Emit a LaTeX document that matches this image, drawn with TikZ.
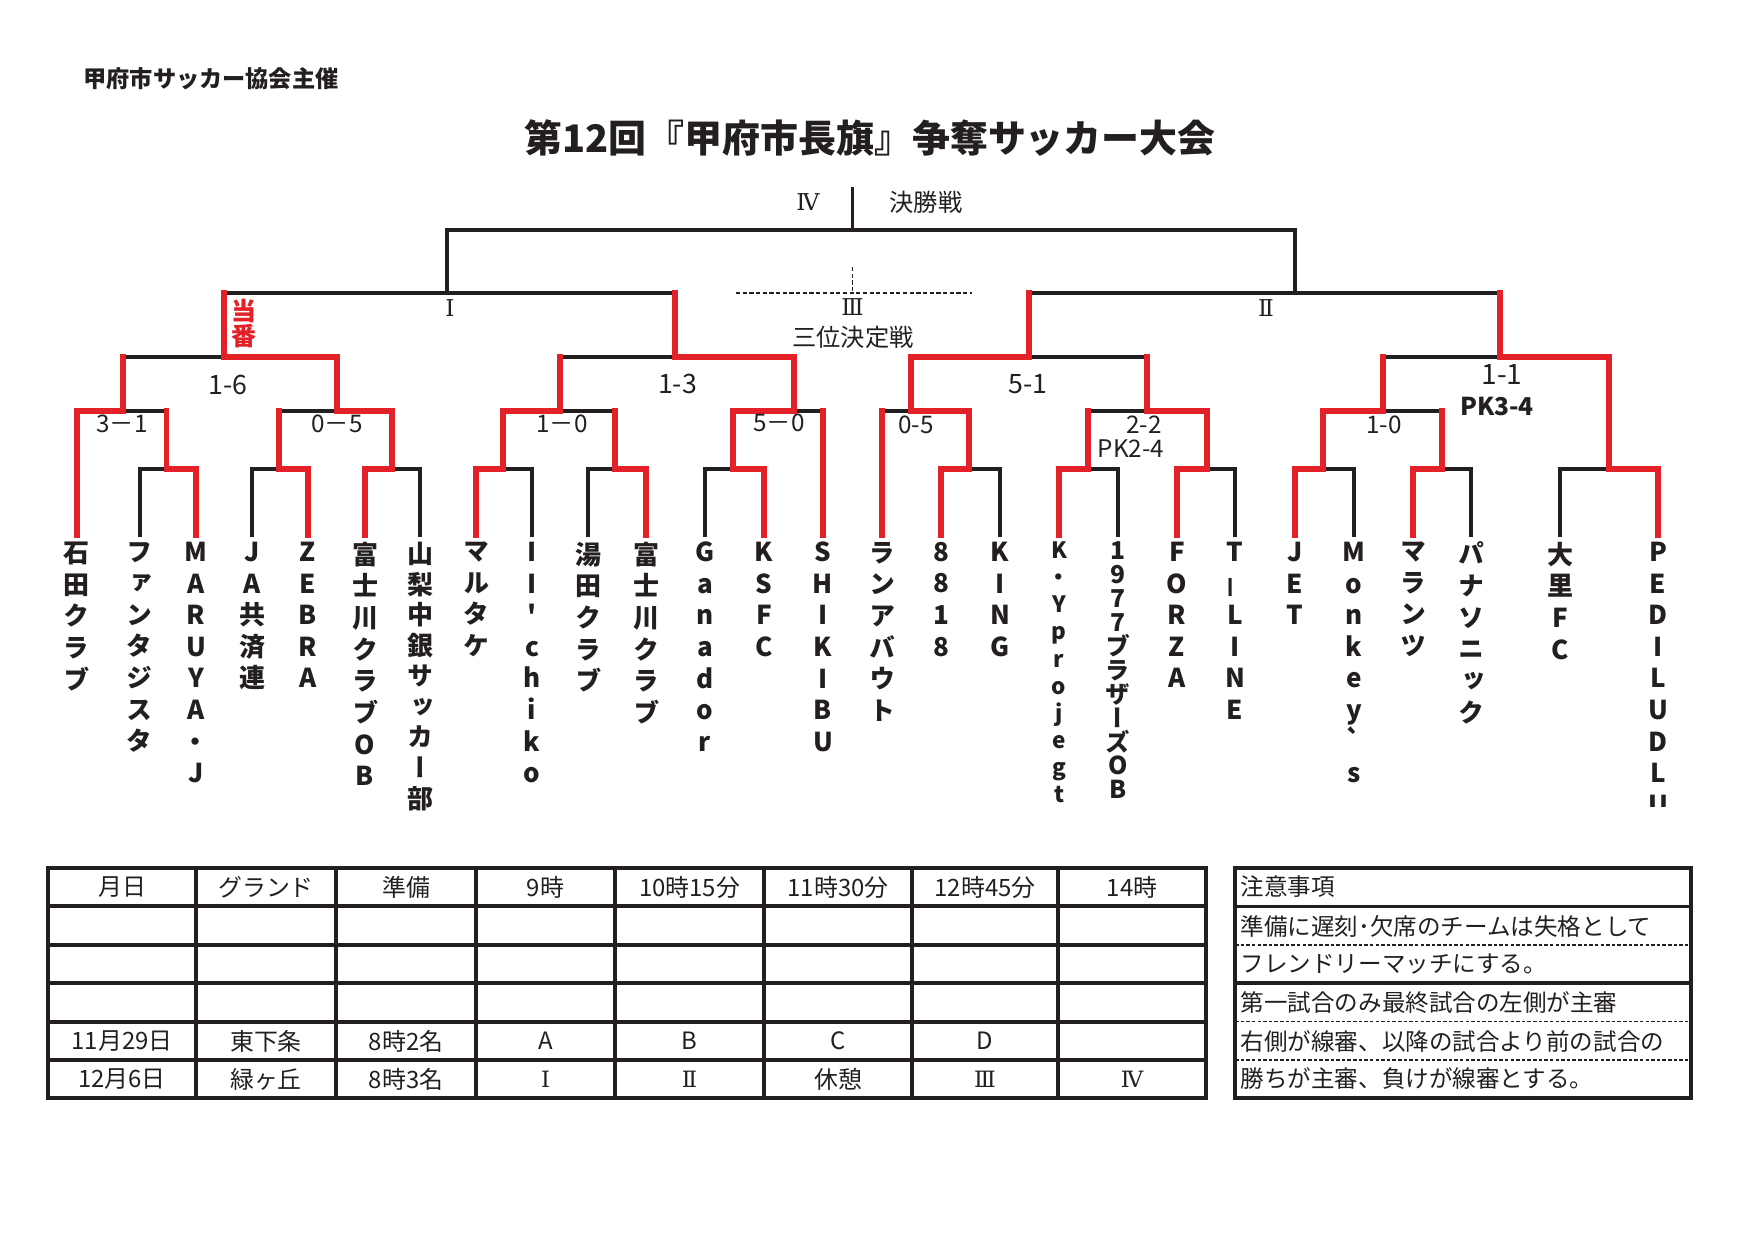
\documentclass[tikz,border=0pt]{standalone}
\usepackage{fontspec}
\setmainfont{Noto Sans CJK JP}
\newfontfamily\teamfont[RawFeature=+vert]{Noto Sans CJK JP}
\newfontfamily\romfont{DejaVu Serif}
\definecolor{winred}{RGB}{228,32,40}
\definecolor{ink}{RGB}{35,31,32}

\begin{document}
\begin{tikzpicture}[
    x=0.1mm, y=-0.1mm,
    loseline/.style={draw=ink, line width=0.95pt, line cap=rect},
    winline/.style={draw=winred, line width=1.6pt, line cap=rect},
    thirdline/.style={draw=ink, line width=0.5pt, dash pattern=on 1.2pt off 0.7pt},
    teamname/.style={
        anchor=north, align=center, inner sep=0pt, outer ysep=0.7mm, text=ink,
        font={\teamfont\bfseries\fontsize{7.4pt}{9pt}\selectfont\lineskiplimit=-20pt}
    },
    roundlbl/.style={inner sep=0pt, text=ink, font=\fontsize{6.9pt}{8pt}\selectfont},
    romlbl/.style={inner sep=0pt, text=ink, font=\romfont\fontsize{6.6pt}{8pt}\selectfont},
    score/.style={inner sep=0pt, text=ink, font=\fontsize{6.9pt}{8pt}\selectfont},
    bigscore/.style={inner sep=0pt, text=ink, font=\fontsize{7.6pt}{9pt}\selectfont},
    dutylbl/.style={
        inner sep=0pt, align=center, text=winred,
        font={\bfseries\fontsize{7.1pt}{7.1pt}\selectfont\lineskiplimit=-20pt}
    },
    gridline/.style={draw=ink, line width=1pt},
    gridframe/.style={draw=ink, line width=1.3pt},
    dotline/.style={draw=ink, line width=0.4pt, dash pattern=on 1pt off 0.6pt},
    cell/.style={inner sep=0pt, text=ink, font=\fontsize{6.8pt}{8pt}\selectfont},
    romcell/.style={inner sep=0pt, text=ink, font=\romfont\fontsize{6.4pt}{8pt}\selectfont},
    notetext/.style={anchor=west, inner sep=0pt, text=ink, font=\fontsize{6.7pt}{8pt}\selectfont}
]
\useasboundingbox (0,0) rectangle (1754,1240);

% Heading
\node[inner sep=0pt, text=ink, font=\bfseries\fontsize{6.6pt}{8pt}\selectfont] (org) at (211,79) {甲府市サッカー協会主催};
\node[inner sep=0pt, text=ink, font=\bfseries\fontsize{10.8pt}{12pt}\selectfont] (title) at (870,138) {第12回『甲府市長旗』争奪サッカー大会};

% Match points of the bracket
\coordinate (finT) at (852.5,189);
\coordinate (fin) at (852.5,230);
\coordinate (semiL) at (447,293);
\coordinate (semiR) at (1295,293);
\coordinate (qf1) at (224,357);
\coordinate (qf2) at (675,357);
\coordinate (qf3) at (1029,357);
\coordinate (qf4) at (1500,357);
\coordinate (r1) at (123,411);
\coordinate (r2) at (337,411);
\coordinate (r3) at (560,411);
\coordinate (r4) at (794,411);
\coordinate (r5) at (911,411);
\coordinate (r6) at (1147,411);
\coordinate (r7) at (1383,411);
\coordinate (s1) at (166.5,469);
\coordinate (s2) at (279,469);
\coordinate (s3) at (392,469);
\coordinate (s4) at (503,469);
\coordinate (s5) at (615,469);
\coordinate (s6) at (733,469);
\coordinate (s7) at (969,469);
\coordinate (s8) at (1088,469);
\coordinate (s9) at (1207,469);
\coordinate (s10) at (1323,469);
\coordinate (s11) at (1442,469);
\coordinate (s12) at (1609,469);
\coordinate (thirdL) at (736,293);
\coordinate (thirdR) at (972,293);
\coordinate (thirdT) at (852.5,267);
\coordinate (third) at (852.5,293);

% Teams, written top to bottom
\node[teamname] (t1) at (77,535) {石\\田\\ク\\ラ\\ブ};
\node[teamname] (t2) at (140,535) {フ\\ァ\\ン\\タ\\ジ\\ス\\タ};
\node[teamname] (t3) at (196,535) {M\\A\\R\\U\\Y\\A\\・\\J};
\node[teamname] (t4) at (252,535) {J\\A\\共\\済\\連};
\node[teamname] (t5) at (308,535) {Z\\E\\B\\R\\A};
\node[teamname] (t6) at (365,535) {富\\士\\川\\ク\\ラ\\ブ\\O\\B};
\node[teamname, font={\teamfont\bfseries\fontsize{7.4pt}{8.7pt}\selectfont\lineskiplimit=-20pt}] (t7) at (420,535) {山\\梨\\中\\銀\\サ\\ッ\\カ\\ー\\部};
\node[teamname] (t8) at (476,535) {マ\\ル\\タ\\ケ};
\node[teamname] (t9) at (532,535) {I\\I\\'\\c\\h\\i\\k\\o};
\node[teamname] (t10) at (588,535) {湯\\田\\ク\\ラ\\ブ};
\node[teamname] (t11) at (646,535) {富\\士\\川\\ク\\ラ\\ブ};
\node[teamname] (t12) at (705,535) {G\\a\\n\\a\\d\\o\\r};
\node[teamname] (t13) at (764,535) {K\\S\\F\\C};
\node[teamname] (t14) at (823,535) {S\\H\\I\\K\\I\\B\\U};
\node[teamname] (t15) at (882,535) {ラ\\ン\\ア\\バ\\ウ\\ト};
\node[teamname] (t16) at (941,535) {8\\8\\1\\8};
\node[teamname] (t17) at (1000,535) {K\\I\\N\\G};
\node[teamname, font={\teamfont\bfseries\fontsize{6.4pt}{7.7pt}\selectfont\lineskiplimit=-20pt}] (t18) at (1059,535) {K\\・\\Y\\p\\r\\o\\j\\e\\g\\t};
\node[teamname, font={\teamfont\bfseries\fontsize{7pt}{6.8pt}\selectfont\lineskiplimit=-20pt}] (t19) at (1118,535) {1\\9\\7\\7\\ブ\\ラ\\ザ\\ー\\ズ\\O\\B};
\node[teamname] (t20) at (1177,535) {F\\O\\R\\Z\\A};
\node[teamname] (t21) at (1235,535) {T\\\rotatebox[origin=c]{90}{－}\\L\\I\\N\\E};
\node[teamname] (t22) at (1295,535) {J\\E\\T};
\node[teamname] (t23) at (1354,535) {M\\o\\n\\k\\e\\y\\`\\s};
\node[teamname] (t24) at (1413,535) {マ\\ラ\\ン\\ツ};
\node[teamname] (t25) at (1471,535) {パ\\ナ\\ソ\\ニ\\ッ\\ク};
\node[teamname] (t26) at (1560,535) {大\\里\\F\\C};
\begin{scope}
  \clip (1600,500) rectangle (1720,806);
  \node[teamname] (t27) at (1658,535) {P\\E\\D\\I\\L\\U\\D\\L\\U};
\end{scope}

% Lines not yet won
\draw[loseline] (semiL) |- (fin);
\draw[loseline] (semiR) |- (fin);
\draw[loseline] (fin) -- (finT);
\draw[loseline] (qf1 |- semiL) -- (qf2 |- semiL);
\draw[loseline] (qf3 |- semiR) -- (qf4 |- semiR);
\draw[loseline] (r1 |- qf1) -- (qf1);
\draw[loseline] (r3 |- qf2) -- (qf2);
\draw[loseline] (qf3) -- (r6 |- qf3);
\draw[loseline] (r7 |- qf4) -- (qf4);
\draw[loseline] (s1 |- r1) -- (r1);
\draw[loseline] (s2 |- r2) -- (r2);
\draw[loseline] (r3) -- (s5 |- r3);
\draw[loseline] (r4) -- (t14.north |- r4);
\draw[loseline] (t15.north |- r5) -- (r5);
\draw[loseline] (s8 |- r6) -- (r6);
\draw[loseline] (r7) -- (s11 |- r7);
\draw[loseline] (t2.north) |- (s1);
\draw[loseline] (t4.north) |- (s2);
\draw[loseline] (t7.north) |- (s3);
\draw[loseline] (t9.north) |- (s4);
\draw[loseline] (t10.north) |- (s5);
\draw[loseline] (t12.north) |- (s6);
\draw[loseline] (t17.north) |- (s7);
\draw[loseline] (t19.north) |- (s8);
\draw[loseline] (t21.north) |- (s9);
\draw[loseline] (t23.north) |- (s10);
\draw[loseline] (t25.north) |- (s11);
\draw[loseline] (t26.north) |- (s12);

% Winners' paths
\draw[winline] (qf1) -- (qf1 |- semiL);
\draw[winline] (qf2) -- (qf2 |- semiL);
\draw[winline] (qf3) -- (qf3 |- semiR);
\draw[winline] (qf4) -- (qf4 |- semiR);
\draw[winline] (r1) -- (r1 |- qf1);
\draw[winline] (r2) |- (qf1);
\draw[winline] (r3) -- (r3 |- qf2);
\draw[winline] (r4) |- (qf2);
\draw[winline] (r5) |- (qf3);
\draw[winline] (r6) -- (r6 |- qf3);
\draw[winline] (r7) -- (r7 |- qf4);
\draw[winline] (s12) |- (qf4);
\draw[winline] (t1.north) |- (r1);
\draw[winline] (s1) -- (s1 |- r1);
\draw[winline] (s2) -- (s2 |- r2);
\draw[winline] (s3) |- (r2);
\draw[winline] (s4) |- (r3);
\draw[winline] (s5) -- (s5 |- r3);
\draw[winline] (s6) |- (r4);
\draw[winline] (t14.north) -- (t14.north |- r4);
\draw[winline] (t15.north) -- (t15.north |- r5);
\draw[winline] (s7) |- (r5);
\draw[winline] (s8) -- (s8 |- r6);
\draw[winline] (s9) |- (r6);
\draw[winline] (s10) |- (r7);
\draw[winline] (s11) -- (s11 |- r7);
\draw[winline] (t3.north) |- (s1);
\draw[winline] (t5.north) |- (s2);
\draw[winline] (t6.north) |- (s3);
\draw[winline] (t8.north) |- (s4);
\draw[winline] (t11.north) |- (s5);
\draw[winline] (t13.north) |- (s6);
\draw[winline] (t16.north) |- (s7);
\draw[winline] (t18.north) |- (s8);
\draw[winline] (t20.north) |- (s9);
\draw[winline] (t22.north) |- (s10);
\draw[winline] (t24.north) |- (s11);
\draw[winline] (t27.north) |- (s12);

% Third place match
\draw[thirdline] (thirdL) -- (thirdR);
\draw[thirdline] (thirdT) -- (third);

% Round labels
\node[romlbl] (lblIV) at (808,202) {Ⅳ};
\node[roundlbl] (lblfinal) at (926,202) {決勝戦};
\node[romlbl] (lblI) at (450,308) {Ⅰ};
\node[romlbl] (lblII) at (1266,308) {Ⅱ};
\node[romlbl] (lblIII) at (852.5,307) {Ⅲ};
\node[roundlbl] (lblthird) at (853,337) {三位決定戦};
\node[dutylbl] (duty) at (244,324) {当\\番};

% Scores
\node[bigscore] (sc1) at (228,385) {1-6};
\node[score] (sc2) at (122,424) {3－1};
\node[score] (sc3) at (337,424) {0－5};
\node[score] (sc4) at (562,424) {1－0};
\node[bigscore] (sc5) at (677.5,384) {1-3};
\node[score] (sc6) at (779,423) {5－0};
\node[score] (sc7) at (916,425) {0-5};
\node[bigscore] (sc8) at (1028,384) {5-1};
\node[score] (sc9) at (1144,425) {2-2};
\node[score] (sc10) at (1131,449) {PK2-4};
\node[bigscore, font=\fontsize{8pt}{9pt}\selectfont] (sc11) at (1502,374) {1-1};
\node[score, font=\bfseries\fontsize{7pt}{8pt}\selectfont] (sc12) at (1497,407) {PK3-4};
\node[score] (sc13) at (1384,425) {1-0};

% Schedule table
\foreach \y in {906,945,983,1022,1060}
  \draw[gridline] (48,\y) -- (1206,\y);
\foreach \x in {196,336,476,615,764,912,1058}
  \draw[gridline] (\x,868) -- (\x,1098);
\draw[gridframe] (48,868) rectangle (1206,1098);

\node[cell] (h1) at (122,887) {月日};
\node[cell] (h2) at (266,887) {グランド};
\node[cell] (h3) at (406,887) {準備};
\node[cell] (h4) at (545.5,887) {9時};
\node[cell] (h5) at (689.5,887) {10時15分};
\node[cell] (h6) at (838,887) {11時30分};
\node[cell] (h7) at (985,887) {12時45分};
\node[cell] (h8) at (1132,887) {14時};

\node[cell] (a1) at (122,1041) {11月29日};
\node[cell] (a2) at (266,1041) {東下条};
\node[cell] (a3) at (406,1041) {8時2名};
\node[cell] (a4) at (545.5,1041) {A};
\node[cell] (a5) at (689.5,1041) {B};
\node[cell] (a6) at (838,1041) {C};
\node[cell] (a7) at (985,1041) {D};

\node[cell] (b1) at (122,1079) {12月6日};
\node[cell] (b2) at (266,1079) {緑ヶ丘};
\node[cell] (b3) at (406,1079) {8時3名};
\node[romcell] (b4) at (545.5,1079) {Ⅰ};
\node[romcell] (b5) at (689.5,1079) {Ⅱ};
\node[cell] (b6) at (838,1079) {休憩};
\node[romcell] (b7) at (985,1079) {Ⅲ};
\node[romcell] (b8) at (1132,1079) {Ⅳ};

% Notes
\draw[gridline] (1235,906.7) -- (1691,906.7);
\draw[dotline] (1235,945) -- (1691,945);
\draw[gridline] (1235,983) -- (1691,983);
\draw[dotline] (1235,1021.7) -- (1691,1021.7);
\draw[dotline] (1235,1060) -- (1691,1060);
\draw[gridframe] (1235,868) rectangle (1691,1098);

\node[notetext] (n0) at (1240,887) {注意事項};
\node[notetext] (n1) at (1240,926) {準備に遅刻･欠席のチームは失格として};
\node[notetext] (n2) at (1240,964) {フレンドリーマッチにする。};
\node[notetext] (n3) at (1240,1002.5) {第一試合のみ最終試合の左側が主審};
\node[notetext] (n4) at (1240,1041) {右側が線審、以降の試合より前の試合の};
\node[notetext] (n5) at (1240,1079) {勝ちが主審、負けが線審とする。};

\end{tikzpicture}
\end{document}
